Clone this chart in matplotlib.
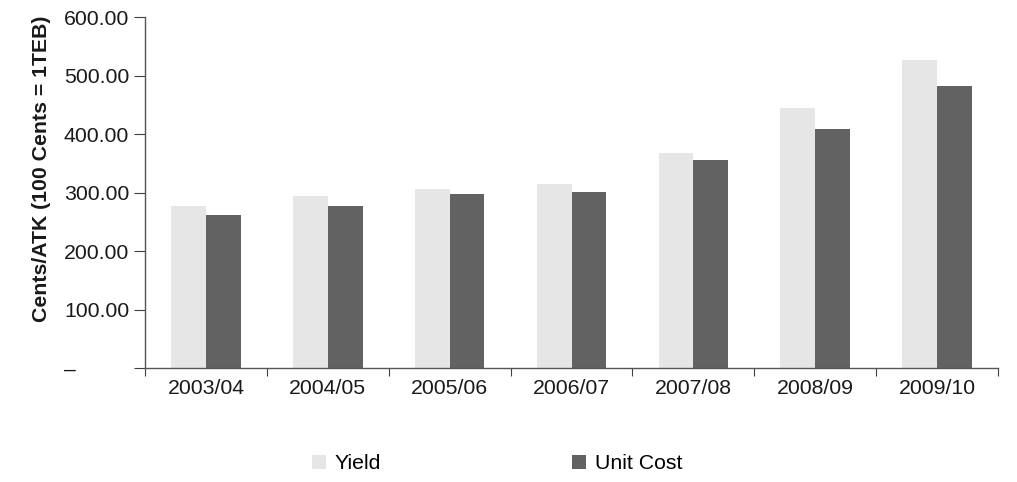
import matplotlib.pyplot as plt
import numpy as np
from matplotlib.ticker import FuncFormatter, FixedLocator, NullFormatter

plt.rcParams['font.family'] = ['Liberation Sans', 'DejaVu Sans']

# yearly yield vs unit cost, cents per ATK
years = ['2003/04', '2004/05', '2005/06', '2006/07', '2007/08', '2008/09', '2009/10']
yield_c = [277, 294, 306, 314, 367, 444, 526]
unit_cost = [262, 277, 297, 301, 355, 408, 482]

fs = 15.3

fig = plt.figure(figsize=(10.17, 4.82), dpi=100)
ax = fig.add_axes([0.1426, 0.2365, 0.8387, 0.7282])

x = np.arange(len(years))
w = 0.285
ax.bar(x - w/2, yield_c, w, color='#e6e6e6', label='Yield')
ax.bar(x + w/2, unit_cost, w, color='#626262', label='Unit Cost')

ax.set_xlim(-0.5, len(years) - 0.5)
ax.set_ylim(0, 600)

# ticks sit on the category borders, labels in the middle
ax.xaxis.set_major_locator(FixedLocator(np.arange(len(years) + 1) - 0.5))
ax.xaxis.set_major_formatter(NullFormatter())
ax.xaxis.set_minor_locator(FixedLocator(x))
ax.set_xticklabels(years, minor=True)
ax.tick_params(axis='x', which='major', length=6, direction='out', color='#404040')
ax.tick_params(axis='x', which='minor', length=0, pad=8, labelsize=fs, labelcolor='#1a1a1a')

ax.set_yticks(np.arange(0, 601, 100))
ax.yaxis.set_major_formatter(FuncFormatter(
    lambda v, p: '–' + ' ' * 9 if v == 0 else f'{v:.2f}'))
ax.tick_params(axis='y', length=8, direction='out', color='#404040',
               labelsize=fs, labelcolor='#1a1a1a')

for s in ['top', 'right']:
    ax.spines[s].set_visible(False)
for s in ['left', 'bottom']:
    ax.spines[s].set_color('#555555')
    ax.spines[s].set_linewidth(1.0)

ax.set_ylabel('Cents/ATK (100 Cents = 1TEB)', fontsize=fs, fontweight='bold',
              color='#1a1a1a', labelpad=9, y=0.568)

fig.legend(loc='center', bbox_to_anchor=(0.489, 0.038), ncol=2, frameon=False,
           fontsize=fs, handlelength=0.66, handleheight=0.66, handletextpad=0.42,
           columnspacing=9.0)

fig.savefig('out.png', dpi=100)
